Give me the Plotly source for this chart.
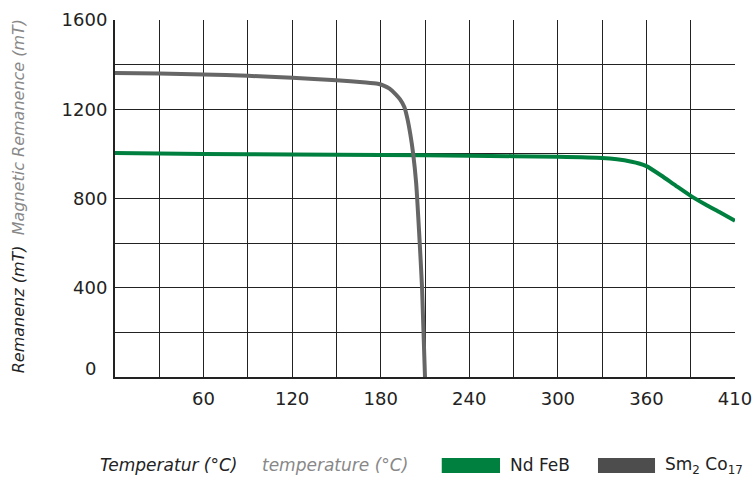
import plotly.graph_objects as go

# Sm2Co17 curve
sm_temp = [0, 30, 60, 90, 120, 150, 170, 178, 182, 186, 190, 193, 196, 198, 200, 202, 204, 206, 208, 210]
sm_rem = [1362, 1360, 1356, 1350, 1341, 1330, 1320, 1314, 1306, 1292, 1268, 1245, 1210, 1160, 1090, 1000, 870, 650, 400, 0]

# NdFeB curve
nd_temp = [0, 60, 120, 180, 240, 300, 330, 340, 350, 355, 360, 370, 380, 390, 400, 410, 420]
nd_rem = [1004, 1000, 997, 995, 992, 987, 982, 976, 965, 957, 945, 903, 857, 812, 773, 737, 700]

x_tickvals = [60, 120, 180, 240, 300, 360, 420]
x_ticktext = ["60", "120", "180", "240", "300", "360", "410"]
y_tickvals = [400, 800, 1200, 1600]

green = "#00803f"
gray = "#666666"
gray_box = "#4d4d4d"
font = "DejaVu Sans"

fig = go.Figure()
fig.add_trace(go.Scatter(x=nd_temp, y=nd_rem, mode="lines",
                         line=dict(color=green, width=4, shape="spline", smoothing=0.6),
                         name="Nd FeB", showlegend=False))
fig.add_trace(go.Scatter(x=sm_temp, y=sm_rem, mode="lines",
                         line=dict(color=gray, width=4, shape="spline", smoothing=0.6),
                         name="Sm2 Co17", showlegend=False))

grid_col = "#222222"
fig.update_xaxes(range=[0, 420], tickvals=x_tickvals, ticktext=x_ticktext,
                 showgrid=True, gridcolor=grid_col, gridwidth=1,
                 minor=dict(dtick=30, tick0=0, showgrid=True, gridcolor=grid_col, gridwidth=1),
                 showline=True, linecolor="#222", linewidth=2, mirror=False,
                 ticks="", ticklabelstandoff=4, zeroline=False, automargin=False,
                 tickfont=dict(family=font, size=18, color="#222"))
fig.update_yaxes(range=[0, 1600], tickvals=y_tickvals,
                 showgrid=True, gridcolor=grid_col, gridwidth=1,
                 minor=dict(dtick=200, tick0=0, showgrid=True, gridcolor=grid_col, gridwidth=1),
                 showline=True, linecolor="#222", linewidth=2, mirror=False,
                 ticks="", ticklabelstandoff=2, zeroline=False, automargin=False,
                 tickfont=dict(family=font, size=18, color="#222"))

ann = []
ann.append(dict(text="0", x=-0.0403, y=0.025, xref="paper", yref="paper", showarrow=False,
                xanchor="center", yanchor="middle", font=dict(family=font, size=18, color="#222")))
ann.append(dict(text="<i>Remanenz (mT)</i>  <span style='color:#888'><i>Magnetic Remanence (mT)</i></span>",
                xref="paper", yref="paper", x=-0.156, y=0.507, showarrow=False, textangle=-90,
                xanchor="center", yanchor="middle", font=dict(family=font, size=16, color="#222")))
ann.append(dict(text="<i>Temperatur (°C)</i>", xref="paper", yref="paper", x=-0.027, y=-0.2465,
                showarrow=False, xanchor="left", yanchor="middle", font=dict(family=font, size=17, color="#222")))
ann.append(dict(text="<i>temperature (°C)</i>", xref="paper", yref="paper", x=0.2339, y=-0.2465,
                showarrow=False, xanchor="left", yanchor="middle", font=dict(family=font, size=17, color="#888")))
ann.append(dict(text="Nd FeB", xref="paper", yref="paper", x=0.634, y=-0.2465,
                showarrow=False, xanchor="left", yanchor="middle", font=dict(family=font, size=17, color="#222")))
ann.append(dict(text="Sm<sub>2</sub> Co<sub>17</sub>", xref="paper", yref="paper", x=0.884, y=-0.2465,
                showarrow=False, xanchor="left", yanchor="middle", font=dict(family=font, size=17, color="#222")))

shapes = [
    dict(type="rect", xref="paper", yref="paper", x0=0.527, x1=0.621, y0=-0.269, y1=-0.227,
         fillcolor=green, line=dict(width=0)),
    dict(type="rect", xref="paper", yref="paper", x0=0.779, x1=0.871, y0=-0.269, y1=-0.227,
         fillcolor=gray_box, line=dict(width=0)),
]

fig.update_layout(width=755, height=481, margin=dict(l=115, r=20, t=20, b=104),
                  plot_bgcolor="white", paper_bgcolor="white",
                  annotations=ann, shapes=shapes, showlegend=False)

fig.write_html("out.html", config={"displayModeBar": False},
               post_script="document.body.style.margin='0';document.body.style.overflow='hidden';")
